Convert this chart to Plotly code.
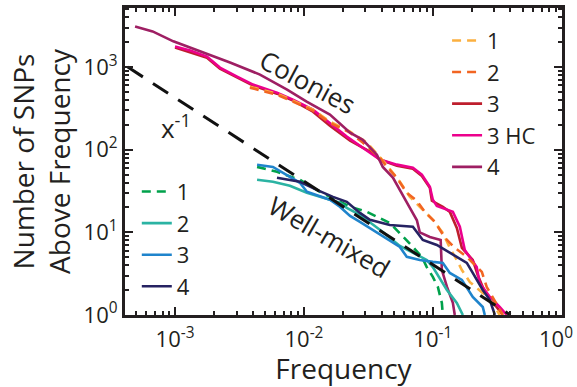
import plotly.graph_objects as go

# ---- Colonies: number of SNPs above a given frequency ----
col1_freq = [3.81e-3, 6.18e-3, 8.22e-3, 0.01175, 0.0159, 0.0228, 0.0308, 0.0425, 0.0555, 0.0664,
             0.0792, 0.1, 0.1196, 0.1355, 0.1535, 0.168, 0.194, 0.244, 0.292, 0.330]
col1_count = [580, 477, 393, 305, 219, 165, 122, 69.5, 41, 26.9,
              20.4, 14.2, 9.86, 6.5, 4.64, 3.5, 2.5, 1.85, 1.4, 1]

col2_freq = [3.81e-3, 6.18e-3, 8.22e-3, 0.01175, 0.0159, 0.0228, 0.0286, 0.0388, 0.044, 0.0526,
             0.0628, 0.0752, 0.0867, 0.1037, 0.124, 0.148, 0.1835, 0.240, 0.262, 0.313, 0.349]
col2_count = [564, 464, 382, 297, 212, 161, 122, 80, 62, 45.8,
              30.1, 24.1, 17.7, 13.4, 8.6, 6.5, 5.05, 3.32, 2.18, 1.32, 1]

col3_freq = [1.0e-3, 1.77e-3, 2.23e-3, 3.03e-3, 4.03e-3, 6.18e-3, 8.22e-3, 0.01175, 0.0159, 0.0228,
             0.0325, 0.0388, 0.0526, 0.070, 0.0822, 0.0948, 0.0983, 0.1196, 0.1355, 0.1535,
             0.168, 0.204, 0.223, 0.253, 0.303, 0.349]
col3_count = [1720, 1300, 960, 746, 597, 477, 393, 289, 195, 129,
              95, 76, 64, 59, 48, 34.6, 24.1, 20.4, 17.7, 11.3,
              6.5, 4.64, 3.05, 1.9, 1.32, 1]

col3hc_freq = [1.0e-3, 1.31e-3, 1.77e-3, 2.23e-3, 3.03e-3, 4.03e-3, 6.18e-3, 8.22e-3, 0.01175, 0.0159,
               0.0215, 0.0325, 0.0388, 0.0526, 0.070, 0.0822, 0.0948, 0.1, 0.1074, 0.143,
               0.162, 0.177, 0.194, 0.219, 0.231, 0.277, 0.330, 0.375]
col3hc_count = [1770, 1585, 1340, 986, 767, 614, 491, 404, 305, 207,
                144, 92, 76, 66, 60.5, 50, 35.6, 24.8, 20.9, 17.7,
                11.7, 6.1, 5.05, 3.8, 2.44, 1.65, 1.25, 1]

col4_freq = [4.9e-4, 6.7e-4, 9.7e-4, 1.31e-3, 1.77e-3, 2.67e-3, 4.56e-3, 7.4e-3, 0.0105, 0.0159,
             0.0228, 0.0286, 0.0368, 0.0409, 0.049, 0.0555, 0.0628, 0.0752, 0.0792, 0.0948,
             0.115, 0.1175, 0.1286, 0.143, 0.148]
col4_count = [3100, 2700, 2050, 1720, 1420, 1135, 811, 534, 382, 266,
              161, 132, 87, 62, 46, 33, 23, 14, 10, 8.8,
              8.1, 3.5, 2.2, 1.4, 1]

# ---- Well-mixed populations ----
wm1_freq = [4.33e-3, 6.18e-3, 9.31e-3, 0.0133, 0.0228, 0.0308, 0.0464, 0.0628, 0.070, 0.0822,
            0.0897, 0.1, 0.1094, 0.1175, 0.1196]
wm1_count = [62, 54, 43.3, 31, 20.4, 17.7, 13, 8.1, 6.67, 5.05,
             3.8, 2.89, 2.18, 1.4, 1]

wm2_freq = [4.33e-3, 5.75e-3, 7.78e-3, 0.01054, 0.019, 0.0215, 0.0272, 0.0409, 0.0555, 0.070,
            0.0897, 0.1, 0.1133, 0.1286, 0.1535, 0.171]
wm2_count = [43.3, 41, 36.6, 30.1, 22.8, 19.8, 16.3, 10.1, 6.86, 5.65,
             4.64, 3.8, 2.81, 2.01, 1.4, 1]

wm3_freq = [4.33e-3, 5.75e-3, 7.78e-3, 9.31e-3, 0.01054, 0.0159, 0.019, 0.0228, 0.0272, 0.0409,
            0.0555, 0.0628, 0.0792, 0.1, 0.1196, 0.1355, 0.168, 0.204, 0.244, 0.253]
wm3_count = [65.8, 62, 47, 39.8, 31, 24.8, 20.4, 15.8, 13.4, 9.07,
             6.67, 5.05, 4.64, 4.39, 4.27, 3.23, 2.66, 1.65, 1.25, 1]

wm4_freq = [6.18e-3, 9.31e-3, 0.0126, 0.0168, 0.0215, 0.0272, 0.0325, 0.0464, 0.070, 0.0836,
            0.1074, 0.1355, 0.1835, 0.204, 0.244, 0.277, 0.303]
wm4_count = [45.8, 41, 32.7, 26.9, 23.4, 17.2, 14.2, 12.3, 11.7, 8.1,
             7.05, 5.65, 4.27, 3.23, 2.01, 1.52, 1]

# ---- x^-1 reference line ----
ref_freq = [4.3e-4, 0.4]
ref_count = [1000, 1]

# ---- axis ticks ----
x_tickvals = [1e-3, 1e-2, 1e-1, 1]
# the last label is padded so it stays inside the figure's right edge
x_ticktext = ["10<sup>-3</sup>", "10<sup>-2</sup>", "10<sup>-1</sup>", "10<sup>0</sup>\u00a0\u00a0"]
y_tickvals = [1, 10, 100, 1000]
y_ticktext = ["10<sup>0</sup>", "10<sup>1</sup>", "10<sup>2</sup>", "10<sup>3</sup>"]

FONT = "Open Sans"
INK = "#231f20"
LW = 2.6
DASH = "9px,6px"

fig = go.Figure()

def add_line(x, y, name, color, dash="solid", legend="legend", rank=1):
    fig.add_trace(go.Scatter(
        x=x, y=y, mode="lines", name=name, legend=legend, legendrank=rank,
        line=dict(color=color, width=LW, dash=dash),
    ))

# colonies (drawing order keeps pink over red, dashes and purple on top)
add_line(col3_freq, col3_count, "3", "#be1e2d", rank=3)
add_line(col3hc_freq, col3hc_count, "3 HC", "#ec008c", rank=4)
add_line(col1_freq, col1_count, "1", "#fbb040", DASH, rank=1)
add_line(col2_freq, col2_count, "2", "#f26522", DASH, rank=2)
add_line(col4_freq, col4_count, "4", "#9e1f63", rank=5)

# well-mixed
add_line(wm1_freq, wm1_count, "1", "#00a14b", DASH, "legend2", 1)
add_line(wm2_freq, wm2_count, "2", "#2bb3a3", "solid", "legend2", 2)
add_line(wm3_freq, wm3_count, "3", "#1f84cc", "solid", "legend2", 3)
add_line(wm4_freq, wm4_count, "4", "#262262", "solid", "legend2", 4)

fig.add_trace(go.Scatter(
    x=ref_freq, y=ref_count, mode="lines", showlegend=False,
    line=dict(color="#111111", width=3, dash="18px,12px"),
))

minor_x = [m * 10 ** e for e in (-4, -3, -2, -1) for m in range(2, 10)]
minor_y = [m * 10 ** e for e in (0, 1, 2, 3) for m in range(2, 10)]

axis_common = dict(
    type="log", showgrid=False, zeroline=False, automargin=False,
    showline=True, linewidth=3, linecolor=INK, mirror="allticks",
    ticks="inside", ticklen=8, tickwidth=2, tickcolor=INK,
    tickfont=dict(family=FONT, size=22, color=INK),
    title_font=dict(family=FONT, size=28, color=INK),
)

fig.update_xaxes(
    **axis_common,
    range=[-3.388, 0.002],
    tickmode="array", tickvals=x_tickvals, ticktext=x_ticktext,
    ticklabelstandoff=3, ticklabeloverflow="allow",
    minor=dict(tickmode="array", tickvals=minor_x, ticks="inside", ticklen=4,
               tickwidth=1.5, tickcolor=INK, showgrid=False),
    title_text="Frequency", title_standoff=4,
)
fig.update_yaxes(
    **axis_common,
    range=[0, 3.715],
    tickmode="array", tickvals=y_tickvals, ticktext=y_ticktext,
    minor=dict(tickmode="array", tickvals=minor_y, ticks="inside", ticklen=4,
               tickwidth=1.5, tickcolor=INK, showgrid=False),
    title_text="Number of SNPs<br>Above Frequency", title_standoff=5,
)

ann_font = dict(family=FONT, size=26, color=INK)
ann_common = dict(xref="paper", yref="paper", showarrow=False,
                  xanchor="center", yanchor="middle", font=ann_font)
fig.add_annotation(text="Colonies", x=0.419, y=0.760, textangle=28, **ann_common)
fig.add_annotation(text="Well-mixed", x=0.469, y=0.254, textangle=30, **ann_common)
fig.add_annotation(text="x<sup>-1</sup>", x=0.117, y=0.613, **ann_common)

legend_common = dict(
    bgcolor="rgba(0,0,0,0)", borderwidth=0,
    font=dict(family=FONT, size=22, color=INK),
    xanchor="left", yanchor="top", itemwidth=30, tracegroupgap=0,
)

fig.update_layout(
    width=577, height=387,
    margin=dict(l=125, r=15, t=8, b=72, autoexpand=False),
    paper_bgcolor="white", plot_bgcolor="white",
    font=dict(family=FONT, color=INK),
    legend=dict(**legend_common, x=0.737, y=0.962),
    legend2=dict(**legend_common, x=0.027, y=0.470),
)

fig.write_html("out.html")
